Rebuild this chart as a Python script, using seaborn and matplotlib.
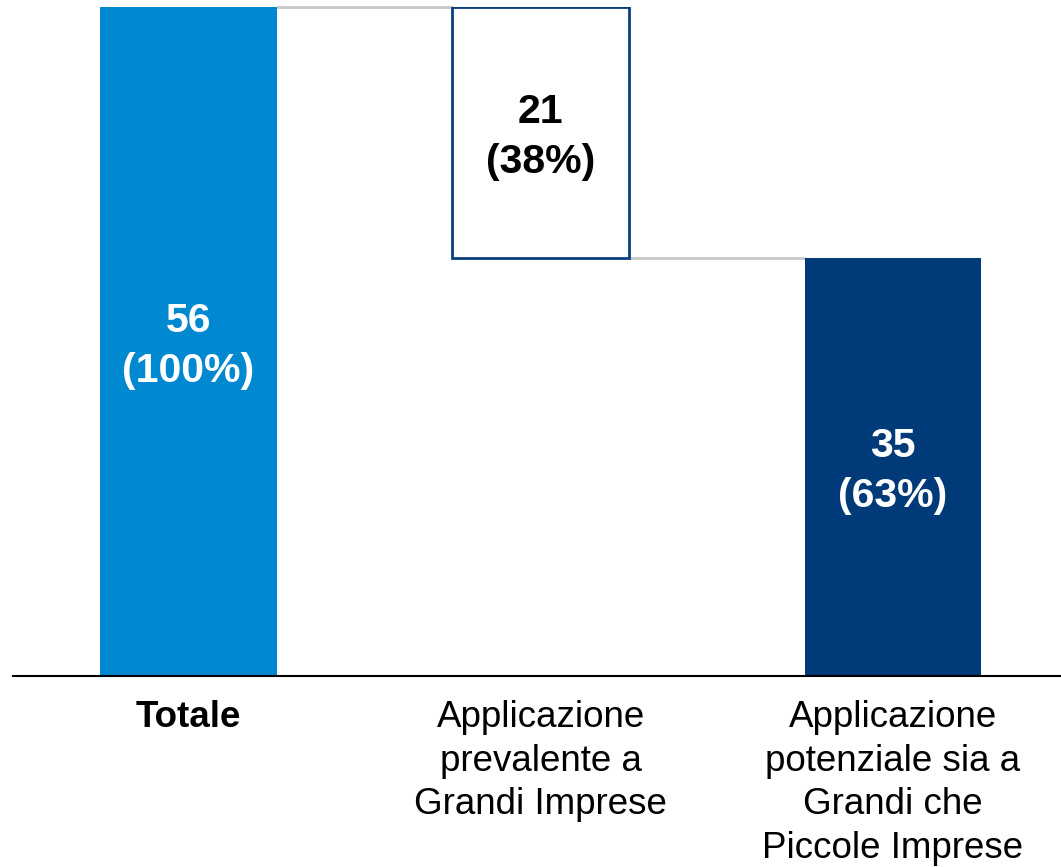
import matplotlib
matplotlib.use("Agg")
import matplotlib.pyplot as plt
import seaborn as sns

# data
categories = ["Totale",
              "Applicazione\nprevalente a\nGrandi Imprese",
              "Applicazione\npotenziale sia a\nGrandi che\nPiccole Imprese"]
values = [56, 21, 35]
percent = ["100%", "38%", "63%"]
bottoms = [0, 35, 0]

sns.set_theme(style="white")
plt.rcParams['font.family'] = ['Liberation Sans', 'DejaVu Sans']

fig = plt.figure(figsize=(10.61, 8.67), dpi=100)
ax = fig.add_axes([13 / 1061, 191 / 867, 1 - 13 / 1061, (676 - 7) / 867])

face = ["#0088D1", "#FFFFFF", "#003A79"]
sns.barplot(x=categories, y=values, hue=categories, palette=face,
            legend=False, width=0.502, ax=ax, saturation=1)

# make the middle bar float and give it an outline
for i, p in enumerate(ax.patches):
    p.set_y(bottoms[i])
    p.set_linewidth(0)
ax.patches[1].set_edgecolor("#0A3F7E")
ax.patches[1].set_linewidth(2)

# connectors
w = 0.502 / 2
ax.plot([0 + w, 1 - w], [56, 56], color="#C8C8C8", lw=2, zorder=0, clip_on=False)
ax.plot([1 + w, 2 - w], [35, 35], color="#C8C8C8", lw=2, zorder=0, clip_on=False)

# value labels
txt_col = ["white", "black", "white"]
for i, v in enumerate(values):
    ax.annotate(f"{v}\n({percent[i]})", (i, bottoms[i] + v / 2),
                xytext=(0, -3), textcoords="offset points",
                ha="center", va="center", fontsize=29.5, fontweight="bold",
                color=txt_col[i], linespacing=1.4)

ax.set_xlim(-0.498, 2.477)
ax.set_ylim(0, 56)
ax.set_yticks([])
ax.set_xlabel("")
ax.set_ylabel("")
for s in ["top", "right", "left"]:
    ax.spines[s].set_visible(False)
ax.spines["bottom"].set_color("black")
ax.spines["bottom"].set_linewidth(1.5)
ax.tick_params(axis="x", length=0, pad=17)
ax.set_xticks(range(3))
ax.set_xticklabels(categories, fontsize=26.5, va="top", linespacing=1.33, color="black")
ax.get_xticklabels()[0].set_fontweight("bold")

fig.savefig("out.png", dpi=100)
